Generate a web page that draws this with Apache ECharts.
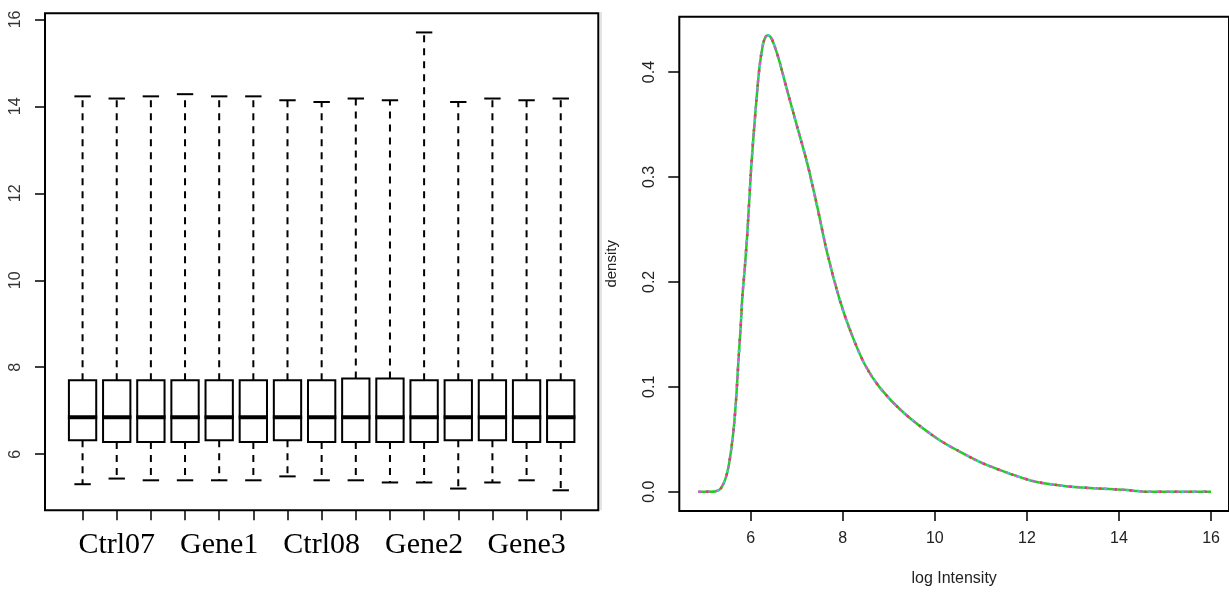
<!DOCTYPE html>
<html>
<head>
<meta charset="utf-8">
<title>boxplot + density</title>
<script src="https://cdn.jsdelivr.net/npm/echarts@6/dist/echarts.min.js"></script>
<style>
  html, body { margin: 0; padding: 0; background: #fff; }
  #chart { width: 1229px; height: 592px; }
</style>
</head>
<body>
<div id="chart"></div>
<script>
// sample names (one label shown per group of 3)
const samples = ['Ctrl07', 'Ctrl07', 'Ctrl07', 'Gene1', 'Gene1', 'Gene1', 'Ctrl08', 'Ctrl08', 'Ctrl08',
  'Gene2', 'Gene2', 'Gene2', 'Gene3', 'Gene3', 'Gene3']
const labelAt = [2, 5, 8, 11, 14]

// box statistics
const whiskLow = [5.31, 5.44, 5.40, 5.40, 5.40, 5.40, 5.49, 5.40, 5.40, 5.35, 5.35, 5.21, 5.35, 5.40, 5.17]
const q1 = [6.32, 6.28, 6.28, 6.28, 6.32, 6.28, 6.32, 6.28, 6.28, 6.28, 6.28, 6.32, 6.32, 6.28, 6.28]
const median = [6.85, 6.85, 6.85, 6.85, 6.85, 6.85, 6.85, 6.85, 6.85, 6.85, 6.85, 6.85, 6.85, 6.85, 6.85]
const q3 = [7.70, 7.70, 7.70, 7.70, 7.70, 7.70, 7.70, 7.70, 7.74, 7.74, 7.70, 7.70, 7.70, 7.70, 7.70]
const whiskHigh = [14.23, 14.18, 14.23, 14.28, 14.23, 14.23, 14.14, 14.10, 14.18, 14.14, 15.70, 14.10, 14.18, 14.14, 14.18]
const boxTicks = [6, 8, 10, 12, 14, 16]

// density curve (log intensity vs density)
const densX = [4.86, 5.10, 5.25, 5.35, 5.45, 5.52, 5.58, 5.64, 5.69, 5.73, 5.78, 5.82, 5.87, 5.93, 6.01, 6.10,
  6.19, 6.27, 6.33, 6.38, 6.44, 6.51, 6.62, 6.79, 7.01, 7.23, 7.44, 7.66, 7.92, 8.15, 8.47, 8.81, 9.33, 10.04,
  10.55, 11.10, 12.10, 12.80, 13.50, 14.10, 14.40, 14.55, 16.0]
const densY = [0, 0, 0.0005, 0.003, 0.012, 0.024, 0.041, 0.064, 0.092, 0.122, 0.155, 0.186, 0.212, 0.248, 0.308, 0.360,
  0.404, 0.427, 0.434, 0.435, 0.433, 0.426, 0.411, 0.383, 0.348, 0.313, 0.273, 0.228, 0.185, 0.155, 0.122, 0.099, 0.075, 0.051,
  0.038, 0.026, 0.0105, 0.0055, 0.0032, 0.0018, 0.0006, 0, 0]
const densXTicks = [6, 8, 10, 12, 14, 16]
const densYTicks = [0, 0.1, 0.2, 0.3, 0.4]

const boxData = samples.map((s, i) => [i + 1, whiskLow[i], q1[i], median[i], q3[i], whiskHigh[i]])
const densData = densX.map((x, i) => [x, densY[i]])

const chart = echarts.init(document.getElementById('chart'))

function renderBox(params, api) {
  const x = api.value(0)
  const pLow = api.coord([x, api.value(1)])
  const pQ1 = api.coord([x, api.value(2)])
  const pMed = api.coord([x, api.value(3)])
  const pQ3 = api.coord([x, api.value(4)])
  const pHigh = api.coord([x, api.value(5)])
  const half = api.size([0.8, 0])[0] / 2
  const cap = half * 0.6
  const cx = pMed[0]
  const dash = { stroke: '#000', lineWidth: 2, lineDash: [7, 6] }
  const solid = { stroke: '#000', lineWidth: 2 }
  return {
    type: 'group',
    children: [
      { type: 'line', shape: { x1: cx, y1: pQ3[1], x2: cx, y2: pHigh[1] }, style: dash },
      { type: 'line', shape: { x1: cx, y1: pQ1[1], x2: cx, y2: pLow[1] }, style: dash },
      { type: 'line', shape: { x1: cx - cap, y1: pHigh[1], x2: cx + cap, y2: pHigh[1] }, style: solid },
      { type: 'line', shape: { x1: cx - cap, y1: pLow[1], x2: cx + cap, y2: pLow[1] }, style: solid },
      { type: 'rect', shape: { x: cx - half, y: pQ3[1], width: half * 2, height: pQ1[1] - pQ3[1] },
        style: { fill: '#fff', stroke: '#000', lineWidth: 2 } },
      { type: 'line', shape: { x1: cx - half - 1, y1: pMed[1], x2: cx + half + 1, y2: pMed[1] },
        style: { stroke: '#000', lineWidth: 4 } }
    ]
  }
}

const sans = 'Liberation Sans'
const tickStyle = { color: '#000', width: 1.5 }

// several overlaid copies of the curve, like the many samples in the original
const curveStyles = [
  { color: '#22cc22', width: 2.5 },
  { color: '#dd55dd', width: 2.5, type: [3, 6] },
  { color: '#44cccc', width: 2.5, type: [2, 9], dashOffset: 3 },
  { color: '#ee3355', width: 2.5, type: [2, 13], dashOffset: 7 }
]

const option = {
  animation: false,
  backgroundColor: '#fff',
  grid: [
    { left: 45, top: 13.3, width: 553.3, height: 497, show: true, borderColor: '#000', borderWidth: 2 },
    { left: 679.3, top: 16.7, width: 552, height: 496, show: true, borderColor: '#000', borderWidth: 2 }
  ],
  xAxis: [
    {
      gridIndex: 0, type: 'value', min: -0.1, max: 16.1,
      axisLine: { show: false, onZero: false }, splitLine: { show: false },
      axisTick: { length: 10, lineStyle: tickStyle, customValues: samples.map((s, i) => i + 1) },
      axisLabel: {
        customValues: labelAt, margin: 20,
        formatter: v => samples[v - 1],
        fontFamily: 'Liberation Serif', fontSize: 30, color: '#000'
      }
    },
    {
      gridIndex: 1, type: 'value', min: 4.45, max: 16.39,
      axisLine: { show: false, onZero: false }, splitLine: { show: false },
      axisTick: { length: 10, lineStyle: tickStyle, customValues: densXTicks },
      axisLabel: { customValues: densXTicks, margin: 20, fontFamily: sans, fontSize: 16, color: '#222' },
      name: 'log Intensity', nameLocation: 'middle', nameGap: 60,
      nameTextStyle: { fontFamily: sans, fontSize: 16, color: '#222' }
    }
  ],
  yAxis: [
    {
      gridIndex: 0, type: 'value', min: 4.71, max: 16.14,
      axisLine: { show: false, onZero: false }, splitLine: { show: false },
      axisTick: { length: 10, lineStyle: tickStyle, customValues: boxTicks },
      axisLabel: { customValues: boxTicks, rotate: 90, margin: 21, fontFamily: sans, fontSize: 16, color: '#333' }
    },
    {
      gridIndex: 1, type: 'value', min: -0.0184, max: 0.4528,
      axisLine: { show: false, onZero: false }, splitLine: { show: false },
      axisTick: { length: 11, lineStyle: tickStyle, customValues: densYTicks },
      axisLabel: {
        customValues: densYTicks, rotate: 90, margin: 22,
        formatter: v => v.toFixed(1),
        fontFamily: sans, fontSize: 16, color: '#222'
      },
      name: 'density', nameLocation: 'middle', nameRotate: 90, nameGap: 60,
      nameTextStyle: { fontFamily: sans, fontSize: 15, color: '#222' }
    }
  ],
  graphic: [
    // faint divider between the two panels
    { type: 'line', shape: { x1: 601, y1: 12, x2: 601, y2: 510 }, style: { stroke: '#c8c8c8', lineWidth: 1 } }
  ],
  series: [
    {
      type: 'custom', xAxisIndex: 0, yAxisIndex: 0,
      renderItem: renderBox,
      encode: { x: 0, y: [1, 2, 3, 4, 5] },
      data: boxData
    }
  ].concat(curveStyles.map(ls => ({
    type: 'line', xAxisIndex: 1, yAxisIndex: 1,
    data: densData, smooth: 0.3, symbol: 'none',
    lineStyle: ls
  })))
}

chart.setOption(option)
</script>
</body>
</html>
